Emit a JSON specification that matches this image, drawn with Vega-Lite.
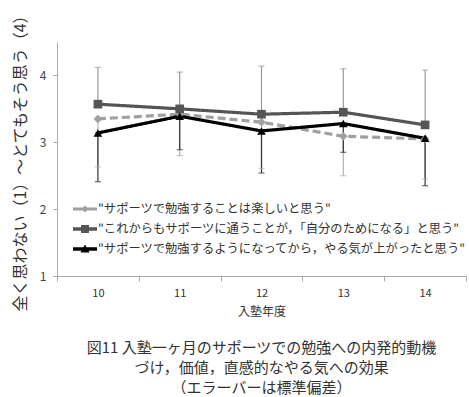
{
  "$schema": "https://vega.github.io/schema/vega-lite/v6.json",
  "width": 409,
  "height": 234,
  "autosize": {"type": "none"},
  "padding": {"left": 57, "top": 42, "right": 3, "bottom": 121},
  "background": "white",
  "config": {
    "font": "Noto Sans CJK JP",
    "view": {"stroke": null}
  },
  "title": {
    "text": ["図11 入塾一ヶ月のサポーツでの勉強への内発的動機", "づけ，価値，直感的なやる気への効果", "（エラーバーは標準偏差）"],
    "orient": "bottom",
    "anchor": "middle",
    "font": "Noto Sans CJK JP",
    "fontSize": 15,
    "fontWeight": "normal",
    "color": "#333",
    "lineHeight": 20,
    "offset": 24
  },
  "data": {
    "values": [
      {"year": "10", "series": "\"サポーツで勉強することは楽しいと思う\"", "mean": 3.35, "lo": 2.63, "hi": 3.35},
      {"year": "11", "series": "\"サポーツで勉強することは楽しいと思う\"", "mean": 3.42, "lo": 2.80, "hi": 3.42},
      {"year": "12", "series": "\"サポーツで勉強することは楽しいと思う\"", "mean": 3.30, "lo": 2.61, "hi": 3.30},
      {"year": "13", "series": "\"サポーツで勉強することは楽しいと思う\"", "mean": 3.09, "lo": 2.50, "hi": 3.09},
      {"year": "14", "series": "\"サポーツで勉強することは楽しいと思う\"", "mean": 3.05, "lo": 2.45, "hi": 3.05},
      {"year": "10", "series": "\"これからもサポーツに通うことが，「自分のためになる」と思う\"", "mean": 3.57, "lo": 3.57, "hi": 4.12},
      {"year": "11", "series": "\"これからもサポーツに通うことが，「自分のためになる」と思う\"", "mean": 3.50, "lo": 3.50, "hi": 4.05},
      {"year": "12", "series": "\"これからもサポーツに通うことが，「自分のためになる」と思う\"", "mean": 3.42, "lo": 3.42, "hi": 4.14},
      {"year": "13", "series": "\"これからもサポーツに通うことが，「自分のためになる」と思う\"", "mean": 3.45, "lo": 3.45, "hi": 4.10},
      {"year": "14", "series": "\"これからもサポーツに通うことが，「自分のためになる」と思う\"", "mean": 3.26, "lo": 3.26, "hi": 4.08},
      {"year": "10", "series": "\"サポーツで勉強するようになってから，やる気が上がったと思う\"", "mean": 3.14, "lo": 2.41, "hi": 3.14},
      {"year": "11", "series": "\"サポーツで勉強するようになってから，やる気が上がったと思う\"", "mean": 3.39, "lo": 2.89, "hi": 3.39},
      {"year": "12", "series": "\"サポーツで勉強するようになってから，やる気が上がったと思う\"", "mean": 3.17, "lo": 2.54, "hi": 3.17},
      {"year": "13", "series": "\"サポーツで勉強するようになってから，やる気が上がったと思う\"", "mean": 3.28, "lo": 2.85, "hi": 3.28},
      {"year": "14", "series": "\"サポーツで勉強するようになってから，やる気が上がったと思う\"", "mean": 3.06, "lo": 2.35, "hi": 3.06}
    ]
  },
  "encoding": {
    "x": {
      "field": "year",
      "type": "ordinal",
      "scale": {"type": "band", "paddingInner": 0, "paddingOuter": 0},
      "axis": {
        "title": "入塾年度",
        "titleFont": "Noto Sans CJK JP",
        "titleFontSize": 12,
        "titleFontWeight": "normal",
        "titleColor": "#333",
        "titlePadding": 8,
        "labelAngle": 0,
        "labelFontSize": 11,
        "labelColor": "#333",
        "labelPadding": 6,
        "tickBand": "extent",
        "tickSize": 5,
        "tickColor": "#aaa",
        "domainColor": "#aaa",
        "grid": false
      }
    }
  },
  "layer": [
    {
      "mark": {"type": "rule", "strokeWidth": 1.2},
      "encoding": {
        "y": {"field": "lo", "type": "quantitative", "scale": {"domain": [1, 4.5], "nice": false}},
        "y2": {"field": "hi"},
        "color": {
          "field": "series",
          "type": "nominal",
          "scale": {"domain": ["\"サポーツで勉強することは楽しいと思う\"", "\"これからもサポーツに通うことが，「自分のためになる」と思う\"", "\"サポーツで勉強するようになってから，やる気が上がったと思う\""], "range": ["#b0b0b0", "#9a9a9a", "#333333"]},
          "legend": null
        }
      }
    },
    {
      "mark": {"type": "tick", "size": 6, "thickness": 1.2},
      "encoding": {
        "y": {"field": "lo", "type": "quantitative", "scale": {"domain": [1, 4.5], "nice": false}},
        "color": {
          "field": "series",
          "type": "nominal",
          "scale": {"domain": ["\"サポーツで勉強することは楽しいと思う\"", "\"これからもサポーツに通うことが，「自分のためになる」と思う\"", "\"サポーツで勉強するようになってから，やる気が上がったと思う\""], "range": ["#b0b0b0", "#9a9a9a", "#333333"]},
          "legend": null
        }
      }
    },
    {
      "mark": {"type": "tick", "size": 6, "thickness": 1.2},
      "encoding": {
        "y": {"field": "hi", "type": "quantitative", "scale": {"domain": [1, 4.5], "nice": false}},
        "color": {
          "field": "series",
          "type": "nominal",
          "scale": {"domain": ["\"サポーツで勉強することは楽しいと思う\"", "\"これからもサポーツに通うことが，「自分のためになる」と思う\"", "\"サポーツで勉強するようになってから，やる気が上がったと思う\""], "range": ["#b0b0b0", "#9a9a9a", "#333333"]},
          "legend": null
        }
      }
    },
    {
      "mark": {"type": "line", "strokeWidth": 3.2},
      "encoding": {
        "y": {
          "field": "mean",
          "type": "quantitative",
          "scale": {"domain": [1, 4.5], "nice": false},
          "axis": {
            "title": "全く思わない（1）～とてもそう思う（4）",
            "titleFont": "Noto Sans CJK JP",
            "titleFontSize": 16,
            "titleFontWeight": "normal",
            "titleColor": "#333",
            "titlePadding": 11,
            "values": [1, 2, 3, 4],
            "format": "d",
            "labelFontSize": 12,
            "labelColor": "#444",
            "labelPadding": 7,
            "tickSize": 4,
            "tickColor": "#aaa",
            "domainColor": "#aaa",
            "grid": false
          }
        },
        "color": {
          "field": "series",
          "type": "nominal",
          "scale": {"domain": ["\"サポーツで勉強することは楽しいと思う\"", "\"これからもサポーツに通うことが，「自分のためになる」と思う\"", "\"サポーツで勉強するようになってから，やる気が上がったと思う\""], "range": ["#a0a0a0", "#555555", "#000000"]},
          "legend": null
        },
        "strokeDash": {
          "field": "series",
          "type": "nominal",
          "scale": {"domain": ["\"サポーツで勉強することは楽しいと思う\"", "\"これからもサポーツに通うことが，「自分のためになる」と思う\"", "\"サポーツで勉強するようになってから，やる気が上がったと思う\""], "range": [[8, 4], [1, 0], [1, 0]]},
          "legend": null
        },
        "order": {"field": "year", "type": "ordinal"}
      }
    },
    {
      "mark": {"type": "point", "filled": true, "opacity": 1, "size": 75},
      "encoding": {
        "y": {"field": "mean", "type": "quantitative", "scale": {"domain": [1, 4.5], "nice": false}},
        "color": {
          "field": "series",
          "type": "nominal",
          "scale": {"domain": ["\"サポーツで勉強することは楽しいと思う\"", "\"これからもサポーツに通うことが，「自分のためになる」と思う\"", "\"サポーツで勉強するようになってから，やる気が上がったと思う\""], "range": ["#a0a0a0", "#555555", "#000000"]},
          "legend": null
        },
        "shape": {
          "field": "series",
          "type": "nominal",
          "scale": {"domain": ["\"サポーツで勉強することは楽しいと思う\"", "\"これからもサポーツに通うことが，「自分のためになる」と思う\"", "\"サポーツで勉強するようになってから，やる気が上がったと思う\""], "range": ["diamond", "square", "triangle-up"]},
          "legend": null
        }
      }
    },
    {
      "mark": {"type": "point", "filled": true, "opacity": 1, "clip": true},
      "encoding": {
        "y": {"datum": 0, "type": "quantitative", "scale": {"domain": [1, 4.5], "nice": false}},
        "color": {
          "field": "series",
          "type": "nominal",
          "scale": {"domain": ["\"サポーツで勉強することは楽しいと思う\"", "\"これからもサポーツに通うことが，「自分のためになる」と思う\"", "\"サポーツで勉強するようになってから，やる気が上がったと思う\""], "range": ["#a0a0a0", "#555555", "#000000"]},
          "legend": {
            "title": null,
            "orient": "none",
            "legendX": 16,
            "legendY": 155,
            "symbolSize": 576,
            "symbolStrokeWidth": 0,
            "labelFontSize": 12.3,
            "labelColor": "#333",
            "labelFont": "Noto Sans CJK JP",
            "labelLimit": 400,
            "labelOffset": 1,
            "rowPadding": 1
          }
        },
        "shape": {
          "field": "series",
          "type": "nominal",
          "scale": {"domain": ["\"サポーツで勉強することは楽しいと思う\"", "\"これからもサポーツに通うことが，「自分のためになる」と思う\"", "\"サポーツで勉強するようになってから，やる気が上がったと思う\""], "range": ["M-1,-0.12H1V0.12H-1Z M0,-0.3L0.3,0L0,0.3L-0.3,0Z", "M-1,-0.14H1V0.14H-1Z M-0.33,-0.33H0.33V0.33H-0.33Z", "M-1,-0.14H1V0.14H-1Z M0,-0.38L0.38,0.3L-0.38,0.3Z"]},
          "legend": {
            "title": null,
            "orient": "none",
            "legendX": 16,
            "legendY": 155,
            "symbolSize": 576,
            "symbolStrokeWidth": 0,
            "labelFontSize": 12.3,
            "labelColor": "#333",
            "labelFont": "Noto Sans CJK JP",
            "labelLimit": 400,
            "labelOffset": 1,
            "rowPadding": 1
          }
        }
      }
    }
  ],
  "resolve": {"scale": {"color": "independent", "shape": "independent", "strokeDash": "independent"}}
}
